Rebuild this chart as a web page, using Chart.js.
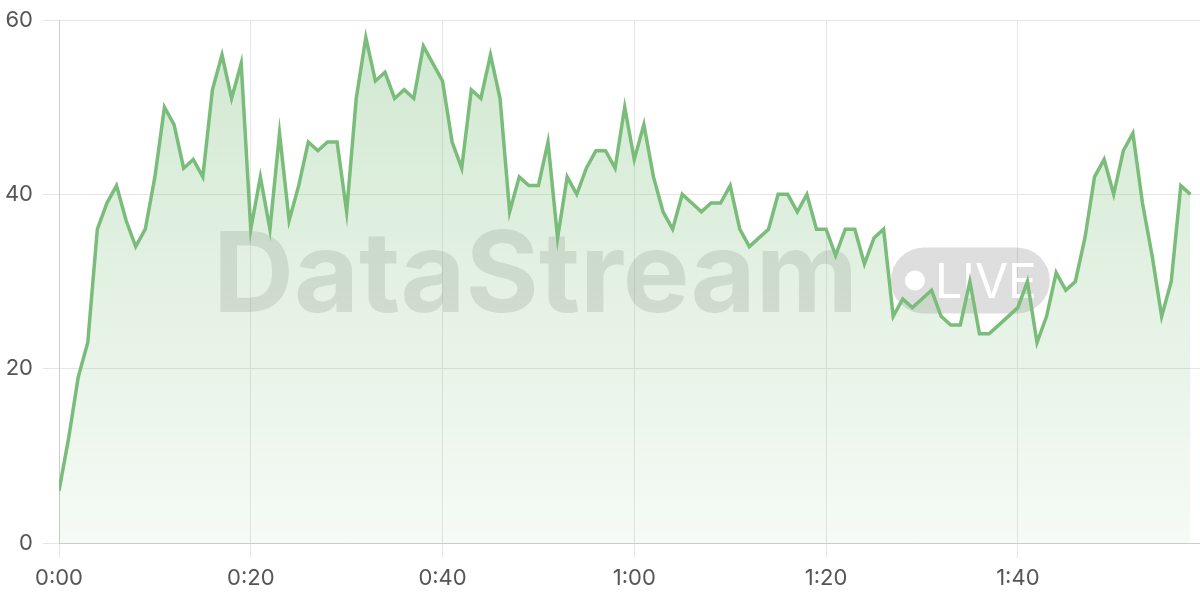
<!DOCTYPE html>
<html>
<head>
<meta charset="utf-8">
<script src="https://cdn.jsdelivr.net/npm/chart.js@4/dist/chart.umd.min.js"></script>
<style>
  html, body { margin: 0; padding: 0; background: #fff; }
  #wrap { width: 1200px; height: 600px; position: relative; }
</style>
</head>
<body>
<div id="wrap"><canvas id="chart"></canvas></div>
<script>
// one reading per second
var values = [
  6, 12, 19, 23, 36, 39, 41, 37, 34, 36,
  42, 50, 48, 43, 44, 42, 52, 56, 51, 55,
  36, 42, 36, 47, 37, 41, 46, 45, 46, 46,
  38, 51, 58, 53, 54, 51, 52, 51, 57, 55,
  53, 46, 43, 52, 51, 56, 51, 38, 42, 41,
  41, 46, 35, 42, 40, 43, 45, 45, 43, 50,
  44, 48, 42, 38, 36, 40, 39, 38, 39, 39,
  41, 36, 34, 35, 36, 40, 40, 38, 40, 36,
  36, 33, 36, 36, 32, 35, 36, 26, 28, 27,
  28, 29, 26, 25, 25, 30, 24, 24, 25, 26,
  27, 30, 23, 26, 31, 29, 30, 35, 42, 44,
  40, 45, 47, 39, 33, 26, 30, 41, 40
];
var seconds = values.map(function (v, i) { return i; });
var yTicks = [0, 20, 40, 60];
var xTicks = [0, 20, 40, 60, 80, 100];
var watermarkTitle = "DataStream";
var watermarkBadge = "LIVE";

function fmtTime(s) {
  var m = Math.floor(s / 60), r = s % 60;
  return m + ":" + (r < 10 ? "0" : "") + r;
}

var watermark = {
  id: "watermark",
  beforeDatasetsDraw: function (chart) {
    var ctx = chart.ctx, a = chart.chartArea;
    var cx = (a.left + a.right) / 2, cy = (a.top + a.bottom) / 2 - 1;
    ctx.save();
    ctx.font = "bold 112px Inter";
    var w1 = ctx.measureText(watermarkTitle).width;
    var gap = 33, pillW = 159, pillH = 66;
    var x0 = cx - (w1 + gap + pillW) / 2 + 2;
    ctx.fillStyle = "rgba(40,40,40,0.13)";
    ctx.textBaseline = "alphabetic";
    ctx.fillText(watermarkTitle, x0, cy + 31);
    var px = x0 + w1 + gap, py = cy - pillH / 2;
    ctx.beginPath();
    ctx.roundRect(px, py, pillW, pillH, pillH / 2);
    ctx.fillStyle = "rgba(0,0,0,0.13)";
    ctx.fill();
    ctx.fillStyle = "#fff";
    ctx.beginPath();
    ctx.arc(px + 24, cy, 10, 0, Math.PI * 2);
    ctx.fill();
    ctx.font = "48px Inter";
    ctx.fillText(watermarkBadge, px + 44, cy + 17);
    ctx.restore();
  }
};

var ctx = document.getElementById("chart").getContext("2d");
new Chart(ctx, {
  type: "line",
  data: {
    labels: seconds,
    datasets: [{
      data: values,
      borderColor: "rgb(122,189,122)",
      borderWidth: 3.5,
      pointRadius: 0,
      tension: 0,
      fill: "origin",
      backgroundColor: function (c) {
        var a = c.chart.chartArea;
        if (!a) return "rgba(122,189,122,0.2)";
        var g = c.chart.ctx.createLinearGradient(0, a.top, 0, a.bottom);
        g.addColorStop(0, "rgba(122,189,122,0.35)");
        g.addColorStop(1, "rgba(122,189,122,0.07)");
        return g;
      }
    }]
  },
  options: {
    responsive: true,
    maintainAspectRatio: false,
    animation: false,
    layout: { padding: 0 },
    plugins: { legend: { display: false }, tooltip: { enabled: false } },
    scales: {
      x: {
        type: "linear",
        min: 0,
        max: 119,
        border: { color: "#cccccc" },
        grid: { color: "#e6e6e6", tickLength: 15 },
        afterBuildTicks: function (s) { s.ticks = xTicks.map(function (v) { return { value: v }; }); },
        afterFit: function (s) { s.height = 57; s.paddingLeft = 0; s.paddingRight = 0; },
        ticks: {
          color: "#555",
          font: { family: "Inter", size: 22 },
          padding: 7,
          maxRotation: 0,
          callback: function (v) { return fmtTime(v); }
        }
      },
      y: {
        min: yTicks[0],
        max: yTicks[yTicks.length - 1],
        border: { color: "#cccccc" },
        grid: { color: "#e6e6e6", tickLength: 16 },
        afterBuildTicks: function (s) { s.ticks = yTicks.map(function (v) { return { value: v }; }); },
        afterFit: function (s) { s.width = 59; s.paddingTop = 20; s.paddingBottom = 0; },
        ticks: {
          color: "#555",
          font: { family: "Inter", size: 22 },
          padding: 10
        }
      }
    }
  },
  plugins: [watermark]
});
</script>
</body>
</html>
